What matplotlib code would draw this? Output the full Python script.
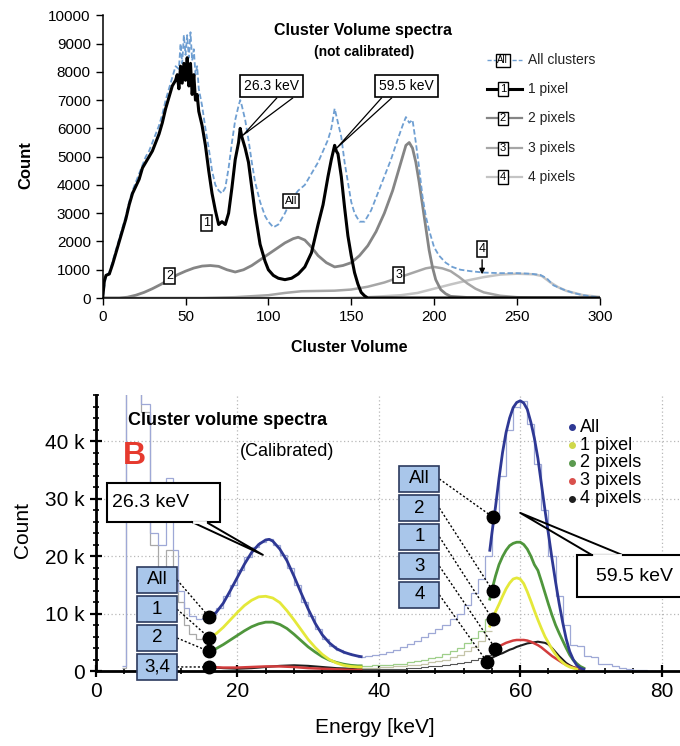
import matplotlib
matplotlib.use("Agg")
import matplotlib.pyplot as plt
from matplotlib.patches import Rectangle
from matplotlib.ticker import MultipleLocator, FuncFormatter

plt.rcParams["font.family"] = ["Liberation Sans", "DejaVu Sans"]

# ---------------- top panel: cluster volume (not calibrated) ----------------
one_px_x = [0, 1, 2, 4, 6, 8, 10, 12, 14, 16, 18, 20, 22, 24, 26, 28, 30, 32, 34, 36, 38, 40,
            42, 44, 45, 46, 47, 48, 49, 50, 51, 52, 53, 54, 55, 56, 57, 58, 60, 62, 64, 66, 68,
            70, 72, 74, 76, 78, 80, 82, 83, 84, 86, 88, 90, 92, 95, 98, 100, 103, 106, 110, 114,
            118, 122, 126, 130, 133, 136, 138, 140, 141, 142, 144, 146, 148, 150, 152, 154, 156,
            158, 160, 170, 300]
one_px_y = [0, 600, 800, 850, 1200, 1600, 2000, 2400, 2800, 3300, 3700, 3950, 4200, 4600, 4800,
            5000, 5200, 5500, 5800, 6200, 6700, 7100, 7500, 7700, 7900, 7400, 8200, 7600, 8300,
            7700, 8500, 7500, 8300, 7200, 7900, 7000, 7200, 6600, 6100, 5400, 4500, 3700, 3100,
            2600, 2700, 2600, 3000, 3900, 4900, 5500, 6000, 5700, 5300, 4800, 3900, 3000, 1900,
            1300, 1000, 800, 700, 650, 700, 850, 1100, 1600, 2600, 3300, 4300, 4900, 5400, 5200,
            5100, 4300, 3200, 2200, 1500, 900, 500, 200, 80, 0, 0, 0]

all_x = [0, 2, 4, 6, 8, 10, 12, 14, 16, 18, 20, 22, 24, 26, 28, 30, 32, 34, 36, 38, 40, 42, 44,
         46, 47, 48, 49, 50, 51, 52, 53, 54, 55, 56, 57, 58, 60, 62, 64, 66, 68, 70, 72, 74, 76,
         78, 80, 82, 83, 84, 86, 88, 90, 92, 95, 98, 100, 103, 106, 110, 114, 118, 122, 126, 130,
         133, 136, 138, 140, 142, 144, 146, 148, 150, 152, 155, 158, 162, 166, 170, 174, 178, 181,
         183, 185, 187, 189, 191, 193, 195, 197, 200, 203, 207, 211, 216, 222, 230, 240, 250, 258,
         264, 268, 272, 278, 284, 290, 296, 300]
all_y = [0, 800, 900, 1300, 1700, 2100, 2500, 2900, 3400, 3800, 4100, 4400, 4700, 5000, 5200,
         5500, 5800, 6100, 6500, 7000, 7400, 7800, 8200, 8100, 9000, 8300, 9300, 8600, 9300, 8500,
         9400, 8400, 8800, 7900, 8200, 7400, 6800, 6000, 5300, 4500, 4000, 3800, 3700, 3900, 4600,
         5500, 6300, 6800, 7000, 6800, 6300, 5600, 4800, 4100, 3400, 2900, 2700, 2500, 2600, 3000,
         3500, 3800, 4000, 4400, 4800, 5200, 5600, 6000, 6700, 6200, 5700, 4800, 4100, 3400, 3000,
         2700, 2700, 3100, 3700, 4300, 4900, 5600, 6100, 6400, 6200, 6300, 5500, 4600, 3600, 2900,
         2400, 1800, 1500, 1250, 1100, 1000, 950, 900, 880, 880, 860, 820, 700, 450, 300, 180, 100,
         50, 30]

two_px_x = [0, 10, 15, 20, 25, 30, 35, 40, 45, 50, 55, 60, 65, 70, 75, 80, 85, 90, 95, 100, 105,
            110, 115, 118, 122, 126, 130, 135, 140, 145, 150, 155, 160, 165, 170, 175, 178, 181,
            183, 185, 187, 189, 191, 193, 195, 197, 199, 201, 204, 207, 210, 220, 300]
two_px_y = [0, 0, 30, 100, 200, 330, 480, 650, 820, 950, 1060, 1130, 1150, 1120, 1000, 920, 1000,
            1150, 1350, 1550, 1750, 1950, 2100, 2150, 2050, 1800, 1500, 1250, 1100, 1150, 1250,
            1500, 1850, 2350, 3000, 3800, 4400, 5000, 5400, 5500, 5300, 4800, 4100, 3300, 2500,
            1700, 1100, 650, 300, 150, 60, 20, 0]

three_px_x = [0, 60, 80, 100, 110, 120, 130, 140, 150, 160, 170, 180, 190, 195, 200, 205, 210,
              215, 220, 225, 230, 240, 250, 260, 300]
three_px_y = [0, 0, 30, 100, 180, 240, 250, 260, 300, 400, 550, 750, 950, 1050, 1100, 1050, 950,
              750, 520, 330, 200, 80, 30, 10, 0]

four_px_x = [0, 140, 160, 180, 190, 200, 210, 220, 230, 240, 250, 260, 265, 270, 275, 280, 290, 300]
four_px_y = [0, 0, 30, 100, 180, 330, 480, 620, 740, 830, 860, 840, 780, 560, 380, 250, 100, 40]

top_legend = ["All clusters", "1 pixel", "2 pixels", "3 pixels", "4 pixels"]
top_tags = ["All", "1", "2", "3", "4"]

# ---------------- bottom panel: calibrated energy (counts in thousands) ----------------
fit1_all_x = [16, 17, 18, 19, 20, 21, 22, 23, 24, 24.5, 25, 26, 27, 28, 29, 30, 31, 32, 33, 34,
              35, 36, 37, 37.5]
fit1_all_y = [9.4, 10.2, 11.8, 14.0, 16.3, 18.6, 20.6, 22.0, 22.8, 22.9, 22.6, 21.2, 19.2, 16.5,
              13.6, 10.8, 8.3, 6.3, 4.9, 3.9, 3.3, 2.9, 2.6, 2.5]
fit1_x = [16, 17, 18, 19, 20, 21, 22, 23, 24, 25, 26, 27, 28, 29, 30, 31, 32, 33, 34, 35, 36, 37, 37.5]
fit1_one_y = [5.8, 6.5, 7.6, 8.9, 10.2, 11.4, 12.3, 12.9, 13.0, 12.7, 11.9, 10.5, 8.9, 7.2, 5.5,
              4.1, 2.9, 2.0, 1.4, 1.0, 0.8, 0.7, 0.7]
fit1_two_y = [3.4, 3.9, 4.6, 5.4, 6.2, 7.0, 7.7, 8.2, 8.5, 8.5, 8.1, 7.4, 6.4, 5.3, 4.2, 3.3, 2.5,
              1.9, 1.5, 1.2, 1.0, 0.9, 0.9]
fit1_small_x = [16, 18, 20, 22, 24, 26, 28, 30, 32, 34, 36, 37.5]
fit1_three_y = [0.7, 0.6, 0.6, 0.7, 0.8, 0.8, 0.7, 0.5, 0.4, 0.3, 0.2, 0.2]
fit1_four_y = [0.7, 0.5, 0.4, 0.5, 0.7, 0.9, 1.0, 0.9, 0.7, 0.5, 0.4, 0.3]

fit2_all_x = [55.7, 56, 56.5, 57, 57.5, 58, 58.5, 59, 59.5, 60, 60.5, 61, 61.5, 62, 62.5, 63, 63.5,
              64, 64.5, 65, 65.5, 66, 66.5, 67, 67.5, 68, 68.5, 69]
fit2_all_y = [21.0, 24.0, 28.5, 33.5, 38.0, 41.5, 44.0, 45.8, 46.7, 47.0, 46.6, 45.5, 43.3, 40.5,
              37.0, 32.5, 28.0, 23.8, 19.5, 15.5, 11.8, 8.5, 5.6, 3.4, 2.0, 1.0, 0.5, 0.3]
fit2_two_x = [55.7, 56, 56.5, 57, 57.5, 58, 58.5, 59, 59.5, 60, 60.5, 61, 61.5, 62, 62.5, 63, 63.5,
              64, 64.5, 65, 65.5, 66, 66.5, 67, 67.5, 68, 68.5, 69]
fit2_two_y = [12.5, 14.1, 16.5, 18.5, 19.9, 21.0, 21.8, 22.2, 22.4, 22.4, 22.0, 21.2, 20.0, 18.5,
              17.5, 15.6, 13.6, 11.6, 9.7, 8.0, 6.6, 5.3, 4.0, 2.8, 1.9, 1.3, 0.8, 0.5]
fit2_one_x = [55.7, 56, 56.5, 57, 57.5, 58, 58.5, 59, 59.5, 60, 60.5, 61, 61.5, 62, 62.5, 63, 63.5,
              64, 64.5, 65, 65.5, 66, 66.5, 67, 67.5, 68]
fit2_one_y = [7.8, 8.9, 10.3, 11.6, 13.0, 14.3, 15.3, 16.0, 16.2, 16.0, 15.2, 13.8, 12.2, 10.5,
              8.9, 7.4, 6.0, 4.9, 3.8, 2.9, 2.1, 1.5, 1.0, 0.7, 0.5, 0.3]
fit2_three_x = [56.4, 57, 57.5, 58, 58.5, 59, 59.5, 60, 60.5, 61, 61.5, 62, 62.5, 63, 63.5, 64,
                64.5, 65, 65.5, 66, 66.5, 67, 67.5, 68, 68.5, 69]
fit2_three_y = [4.0, 4.3, 4.6, 4.9, 5.1, 5.3, 5.4, 5.4, 5.4, 5.3, 5.1, 4.8, 4.5, 4.1, 3.6, 3.1,
                2.6, 2.2, 1.8, 1.4, 1.1, 0.8, 0.6, 0.5, 0.4, 0.3]
fit2_four_x = [55.3, 56, 56.5, 57, 57.5, 58, 58.5, 59, 59.5, 60, 60.5, 61, 61.5, 62, 62.5, 63,
               63.5, 64, 64.5, 65, 65.5, 66, 66.5, 67, 67.5, 68, 68.5, 69]
fit2_four_y = [1.9, 2.3, 2.6, 2.9, 3.1, 3.4, 3.7, 3.9, 4.2, 4.4, 4.6, 4.8, 4.9, 5.0, 5.1, 5.0, 4.9,
               4.6, 4.0, 3.3, 2.6, 2.0, 1.4, 1.0, 0.7, 0.5, 0.3, 0.2]

# measured histograms (thin step outlines)
hist_all_edges = [3.7, 4.3, 6.3, 7.6, 8.7, 9.9, 10.9, 11.6, 12.4, 13.2, 14.2, 15.0, 16, 17, 18,
                  19, 20, 21, 22, 23, 24, 25, 26, 27, 28, 29, 30, 31, 32, 33, 34, 35, 36, 37, 38,
                  39, 40, 41, 42, 43, 44, 45, 46, 47, 48, 49, 50, 51, 52, 53, 54, 55, 56, 57, 58,
                  59, 60, 61, 62, 63, 64, 65, 66, 67, 68, 69, 70, 71, 72, 73, 74, 75, 76, 77, 78, 79]
hist_all_vals = [0.8, 52, 46.5, 24, 22, 33.5, 21, 14, 11, 9.5, 9.0, 9.2, 9.8, 11, 13, 15, 17.5,
                 19.8, 21.5, 22.5, 23, 22, 20.2, 18, 15, 12, 9.5, 7.3, 5.6, 4.4, 3.6, 3.1, 2.8, 2.5,
                 2.6, 2.8, 3.0, 3.3, 3.7, 4.1, 4.7, 5.3, 6.0, 6.6, 7.3, 8.0, 9.0, 10.0, 11.5, 13.5,
                 16, 20, 27, 34, 42, 46, 47, 43, 36, 28, 20, 13, 8, 4.5, 4.3, 2.6, 2.5, 1.3, 1.2,
                 0.8, 0.5, 0.3, 0.2, 0.1, 0.05]
hist_one_edges = [3.7, 4.3, 6.3, 7.6, 8.7, 9.9, 10.9, 11.6, 12.4, 13.2, 14.2, 15.0, 16.0]
hist_one_vals = [0.6, 50, 45, 22, 17, 21, 16, 12, 8, 6.5, 5.5, 5.8]
tail_edges = [37, 38, 39, 40, 41, 42, 43, 44, 45, 46, 47, 48, 49, 50, 51, 52, 53, 54, 55, 56]
tail_two_vals = [0.9, 0.9, 1.0, 1.0, 1.1, 1.2, 1.3, 1.5, 1.7, 1.9, 2.2, 2.5, 2.9, 3.4, 4.0, 4.8,
                 5.8, 7.0, 9.0]
tail_one_vals = [0.6, 0.6, 0.6, 0.7, 0.7, 0.8, 0.9, 1.0, 1.1, 1.3, 1.5, 1.7, 2.0, 2.4, 2.8, 3.4,
                 4.2, 5.3, 7.0]
tail_small_vals = [0.3, 0.3, 0.3, 0.3, 0.4, 0.4, 0.4, 0.5, 0.6, 0.7, 0.8, 0.9, 1.0, 1.2, 1.4,
                   1.6, 1.9, 2.3, 2.8]

# start points of the fitted curves (black dots)
dots_low_y = [9.4, 5.8, 3.4, 0.7]
dots_high_x = [56.1, 56.1, 56.1, 56.5, 55.3]
dots_high_y = [26.8, 14.0, 9.0, 3.9, 1.6]
low_tags = ["All", "1", "2", "3,4"]
high_tags = ["All", "2", "1", "3", "4"]
bottom_legend = ["All", "1 pixel", "2 pixels", "3 pixels", "4 pixels"]

C_ALL, C_ONE, C_TWO, C_THREE, C_FOUR = "#2e3894", "#e4e83a", "#4f963c", "#d23c3c", "#1e1e1e"


def steps(ax, edges, vals, **kw):
    ax.stairs(vals, edges, baseline=None, **kw)


fig = plt.figure(figsize=(6.8, 7.46), dpi=100)

# ================= TOP =================
ax1 = fig.add_axes([0.151, 0.6005, 0.731, 0.379])
ax1.plot(four_px_x, four_px_y, color="#c4c4c4", lw=1.8)
ax1.plot(three_px_x, three_px_y, color="#a6a6a6", lw=1.8)
ax1.plot(two_px_x, two_px_y, color="#858585", lw=2.0)
ax1.plot(all_x, all_y, color="#6f9fd2", lw=1.3, ls=(0, (3, 1.5)))
ax1.plot(one_px_x, one_px_y, color="black", lw=2.2)
ax1.set_xlim(0, 300)
ax1.set_ylim(0, 10000)
ax1.set_xticks(range(0, 301, 50))
ax1.set_yticks(range(0, 10001, 1000))
ax1.tick_params(labelsize=11, length=5, width=1, direction="out")
for s in ["top", "right"]:
    ax1.spines[s].set_visible(False)
for s in ["left", "bottom"]:
    ax1.spines[s].set_linewidth(1.1)
ax1.set_ylabel("Count", fontsize=12, fontweight="bold")
ax1.yaxis.set_label_coords(-0.14, 0.47)
ax1.set_xlabel("Cluster Volume", fontsize=11.5, fontweight="bold")
ax1.xaxis.set_label_coords(0.497, -0.148)

ax1.text(157, 9470, "Cluster Volume spectra", ha="center", va="center", fontsize=11.5,
         fontweight="bold")
ax1.text(158, 8690, "(not calibrated)", ha="center", va="center", fontsize=10,
         fontweight="bold")

box_w = dict(boxstyle="square,pad=0.3", fc="white", ec="black", lw=1.2)
ax1.text(102, 7490, "26.3 keV", ha="center", va="center", fontsize=10, bbox=box_w, zorder=5)
ax1.plot([105, 84.7, 114.6], [7070, 5760, 7070], color="black", lw=0.9, zorder=4)
ax1.text(183.5, 7490, "59.5 keV", ha="center", va="center", fontsize=10, bbox=box_w, zorder=5)
ax1.plot([168.2, 141, 174.3], [7070, 5290, 7070], color="black", lw=0.9, zorder=4)

tag_box = dict(boxstyle="square,pad=0.15", fc="white", ec="black", lw=1.1)
tag_pos = {"1": (62.7, 2650), "2": (40.4, 780), "All": (113.5, 3430), "3": (178.7, 810),
           "4": (229, 1730)}
for t, (x, y) in tag_pos.items():
    ax1.text(x, y, t, ha="center", va="center", fontsize=9 if t != "All" else 8,
             bbox=tag_box, zorder=6)
ax1.annotate("", xy=(229, 740), xytext=(229, 1450),
             arrowprops=dict(arrowstyle="-|>", color="black", lw=1, mutation_scale=8))

leg_styles = [dict(color="#6f9fd2", lw=1.0, ls=(0, (3, 1.5))), dict(color="black", lw=2.2),
              dict(color="#858585", lw=1.6), dict(color="#a6a6a6", lw=1.6),
              dict(color="#c4c4c4", lw=1.6)]
leg_y = [8410, 7390, 6360, 5300, 4280]
for lab, tg, st, y in zip(top_legend, top_tags, leg_styles, leg_y):
    ax1.plot([232, 253], [y, y], clip_on=False, **st)
    ax1.text(241.5, y, tg, ha="center", va="center", fontsize=7 if tg == "All" else 8,
             bbox=dict(boxstyle="square,pad=0.15", fc="white", ec="black", lw=1.0), zorder=6)
    ax1.text(256.5, y, lab, ha="left", va="center", fontsize=10, color="#222222")

# ================= BOTTOM =================
ax2 = fig.add_axes([0.1412, 0.1005, 0.8588, 0.370])
ax2.grid(True, ls=(0, (1, 2)), color="#b8b8b8", lw=0.9)
ax2.set_axisbelow(True)

steps(ax2, hist_one_edges, hist_one_vals, color="#a9a9a9", lw=0.9)
steps(ax2, hist_all_edges, hist_all_vals, color="#9ea8d6", lw=0.9)
steps(ax2, tail_edges, tail_one_vals, color="#c4c4a8", lw=0.9)
steps(ax2, tail_edges, tail_two_vals, color="#9fcf8a", lw=0.9)
steps(ax2, tail_edges, tail_small_vals, color="#555555", lw=0.8)

ax2.plot(fit1_small_x, fit1_four_y, color=C_FOUR, lw=1.5)
ax2.plot(fit1_small_x, fit1_three_y, color=C_THREE, lw=1.8)
ax2.plot(fit1_x, fit1_two_y, color=C_TWO, lw=2)
ax2.plot(fit1_x, fit1_one_y, color=C_ONE, lw=2)
ax2.plot(fit1_all_x, fit1_all_y, color=C_ALL, lw=2)
ax2.plot(fit2_four_x, fit2_four_y, color=C_FOUR, lw=1.5)
ax2.plot(fit2_three_x, fit2_three_y, color=C_THREE, lw=1.8)
ax2.plot(fit2_one_x, fit2_one_y, color=C_ONE, lw=2)
ax2.plot(fit2_two_x, fit2_two_y, color=C_TWO, lw=2)
ax2.plot(fit2_all_x, fit2_all_y, color=C_ALL, lw=2)

ax2.set_xlim(0, 82.6)
ax2.set_ylim(0, 48)
ax2.xaxis.set_major_locator(MultipleLocator(20))
ax2.xaxis.set_minor_locator(MultipleLocator(4))
ax2.yaxis.set_major_locator(MultipleLocator(10))
ax2.yaxis.set_minor_locator(MultipleLocator(2))
ax2.yaxis.set_major_formatter(FuncFormatter(lambda v, p: "0" if v == 0 else f"{v:g} k"))
ax2.tick_params(which="major", direction="inout", length=9, width=1.6, labelsize=15)
ax2.tick_params(which="minor", direction="inout", length=5, width=1.2)
for s in ["top", "right"]:
    ax2.spines[s].set_visible(False)
for s in ["left", "bottom"]:
    ax2.spines[s].set_linewidth(2)
ax2.set_ylabel("Count", fontsize=15)
ax2.yaxis.set_label_coords(-0.11, 0.51)
ax2.set_xlabel("Energy [keV]", fontsize=15)
ax2.xaxis.set_label_coords(0.478, -0.17)

ax2.text(4.5, 43.6, "Cluster volume spectra", ha="left", va="center", fontsize=13,
         fontweight="bold", zorder=6)
ax2.text(5.5, 37.4, "B", ha="center", va="center", fontsize=23, fontweight="bold",
         color="#e63a2e", zorder=6)
ax2.text(27, 38.1, "(Calibrated)", ha="center", va="center", fontsize=13, zorder=6)

# 26.3 keV callout
ax2.add_patch(Rectangle((1.55, 25.9), 16.0, 6.8, fc="white", ec="black", lw=1.5, zorder=7))
ax2.text(2.3, 29.3, "26.3 keV", ha="left", va="center", fontsize=14, zorder=8)
ax2.plot([13.6, 23.6, 15.6], [25.9, 20.2, 25.9], color="black", lw=1.4, zorder=8)
ax2.plot([13.8, 15.4], [25.9, 25.9], color="white", lw=2, zorder=8)

# 59.5 keV callout
ax2.add_patch(Rectangle((68.1, 12.9), 20.0, 7.3, fc="white", ec="black", lw=1.5, zorder=7))
ax2.text(76.2, 16.5, "59.5 keV", ha="center", va="center", fontsize=14, zorder=8)
ax2.plot([70.1, 60, 74.4], [20.2, 27.5, 20.2], color="black", lw=1.4, zorder=8)
ax2.plot([70.4, 74.1], [20.2, 20.2], color="white", lw=2, zorder=8)

# tag boxes and dots
bw, bh = 5.66, 4.5
box_kw = dict(fc="#a9c6ea", ec="#2b3a5e", lw=1.2, zorder=9)
low_tops = [18.1, 13.0, 8.0, 2.96]
for tg, top, dy in zip(low_tags, low_tops, dots_low_y):
    ax2.add_patch(Rectangle((5.8, top - bh), bw, bh, clip_on=False, **box_kw))
    ax2.text(5.8 + bw / 2, top - bh / 2, tg, ha="center", va="center", fontsize=13.5,
             zorder=10, clip_on=False)
    ax2.plot([5.8 + bw, 16], [top - bh / 2, dy], color="black", lw=1, ls=(0, (1.5, 1.5)),
             zorder=8)
ax2.plot([16] * len(dots_low_y), dots_low_y, "o", color="black", ms=9, zorder=11,
         clip_on=False)

high_tops = [35.65, 30.6, 25.6, 20.5, 15.5]
for tg, top, dx, dy in zip(high_tags, high_tops, dots_high_x, dots_high_y):
    ax2.add_patch(Rectangle((42.9, top - bh), bw, bh, **box_kw))
    ax2.text(42.9 + bw / 2, top - bh / 2, tg, ha="center", va="center", fontsize=13.5,
             zorder=10)
    ax2.plot([42.9 + bw, dx], [top - bh / 2, dy], color="black", lw=1, ls=(0, (1.5, 1.5)),
             zorder=8)
ax2.plot(dots_high_x, dots_high_y, "o", color="black", ms=9, zorder=11)

# legend
leg_cols = [C_ALL, "#cfd84a", "#5b9a4f", "#d9504c", C_FOUR]
leg2_y = [42.4, 39.3, 36.2, 33.1, 30.0]
for lab, c, y in zip(bottom_legend, leg_cols, leg2_y):
    ax2.plot([67.3], [y], "o", color=c, ms=4, zorder=9)
    ax2.text(68.4, y, lab, ha="left", va="center", fontsize=13, zorder=9)

fig.savefig("out.png", dpi=100)
